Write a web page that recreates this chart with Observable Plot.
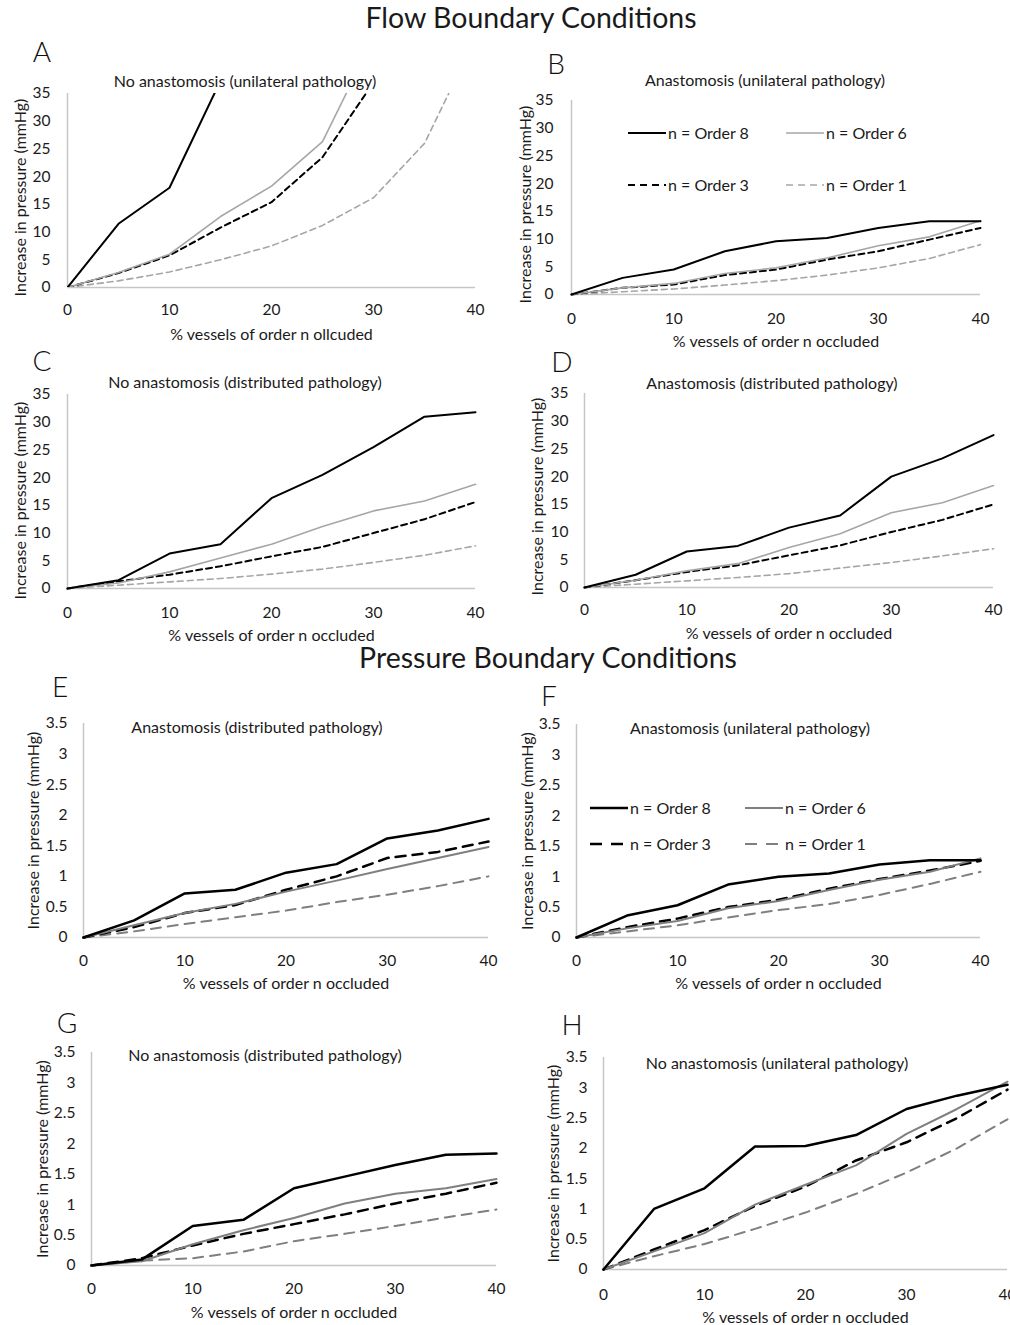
<!DOCTYPE html>
<html><head><meta charset="utf-8">
<script src="https://cdn.jsdelivr.net/npm/d3@7"></script>
<script src="https://cdn.jsdelivr.net/npm/@observablehq/plot@0.6"></script>
<style>
html,body{margin:0;padding:0;background:#fff;overflow:hidden;width:1010px;height:1325px;}
#root{position:relative;width:1010px;height:1325px;font-family:Lato,"Open Sans",sans-serif;color:#1a1a1a;overflow:hidden;}
.abs{position:absolute;white-space:nowrap;line-height:1;}
.ctr{transform:translate(-50%,-50%);}
</style></head><body><div id="root"></div>
<script>
const FONT = "Lato, 'Open Sans', sans-serif";
const pct = [0,5,10,15,20,25,30,35,40];
const seriesNames = ["n = Order 8","n = Order 6","n = Order 3","n = Order 1"];
const xTicks = [0,10,20,30,40];
const flowTicks = [0,5,10,15,20,25,30,35];
const pressureTicks = [0,0.5,1,1.5,2,2.5,3,3.5];
const yLabel = "Increase in pressure (mmHg)";
const xLabel = "% vessels of order n occluded";
const xLabelA = "% vessels of order n ollcuded";

// Flow boundary conditions
const a8 = [0,11.5,18,37.3];
const a6 = [0,2.7,6,12.8,18.3,26.3,45];
const a3 = [0,2.6,5.8,10.8,15.4,23.5,37];
const a1 = [0,1.2,2.8,5,7.5,11.2,16.2,26,45];
const b8 = [0,3,4.5,7.8,9.6,10.2,12,13.2,13.2];
const b6 = [0,1.2,2,3.8,4.8,6.6,8.8,10.4,13.3];
const b3 = [0,1.2,1.8,3.5,4.5,6.3,7.8,9.9,12];
const b1 = [0,0.5,1,1.7,2.5,3.5,4.8,6.5,9];
const c8 = [0,1.5,6.3,8,16.3,20.5,25.5,31,31.8];
const c6 = [0,1,3,5.5,8,11.2,14,15.8,18.8];
const c3 = [0,1.3,2.5,4,5.8,7.5,10,12.5,15.6];
const c1 = [0,0.6,1.2,1.8,2.6,3.5,4.7,6,7.7];
const d8 = [0,2.3,6.5,7.5,10.8,13,20,23.3,27.5];
const d6 = [0,1.3,3,4.3,7.2,9.7,13.5,15.3,18.4];
const d3v = [0,1.3,2.8,4,5.8,7.6,10,12.2,15];
const d1 = [0,0.6,1.2,1.8,2.5,3.5,4.5,5.7,7];
// Pressure boundary conditions
const e8 = [0,0.28,0.72,0.78,1.06,1.2,1.62,1.75,1.94];
const e6 = [0,0.2,0.4,0.55,0.75,0.93,1.12,1.3,1.48];
const e3 = [0,0.17,0.4,0.53,0.78,1.0,1.3,1.4,1.57];
const e1 = [0,0.1,0.22,0.33,0.44,0.58,0.7,0.84,1.0];
const f8 = [0,0.36,0.53,0.87,1.0,1.05,1.2,1.27,1.27];
const f6 = [0,0.15,0.27,0.48,0.6,0.78,0.95,1.08,1.3];
const f3 = [0,0.17,0.31,0.5,0.62,0.8,0.96,1.1,1.26];
const f1 = [0,0.1,0.2,0.33,0.45,0.55,0.7,0.88,1.08];
const g8 = [0,0.1,0.65,0.75,1.27,1.46,1.65,1.82,1.84];
const g6 = [0,0.07,0.35,0.58,0.78,1.02,1.18,1.27,1.42];
const g3 = [0,0.12,0.33,0.52,0.68,0.84,1.02,1.18,1.36];
const g1 = [0,0.08,0.12,0.23,0.4,0.52,0.65,0.79,0.92];
const h8 = [0,1.0,1.34,2.03,2.04,2.22,2.65,2.87,3.05];
const h6 = [0,0.3,0.6,1.07,1.4,1.72,2.24,2.65,3.1];
const h3 = [0,0.33,0.65,1.05,1.37,1.8,2.1,2.5,2.97];
const h1 = [0,0.22,0.42,0.67,0.94,1.25,1.6,2.0,2.48];

const flowStyles = [
  {stroke:"#000", w:2, dash:null},
  {stroke:"#a6a6a6", w:1.6, dash:null},
  {stroke:"#000", w:2, dash:"6,4"},
  {stroke:"#a6a6a6", w:1.6, dash:"6,4"}
];
const pressStyles = [
  {stroke:"#000", w:2.5, dash:null},
  {stroke:"#7f7f7f", w:2, dash:null},
  {stroke:"#000", w:2.5, dash:"10,7"},
  {stroke:"#7f7f7f", w:2, dash:"10,7"}
];

const root = document.getElementById("root");
function addText(txt, x, y, size, weight, color) {
  const d = document.createElement("div");
  d.className = "abs ctr";
  d.textContent = txt;
  d.style.left = x + "px"; d.style.top = y + "px";
  d.style.fontSize = size + "px"; d.style.fontWeight = weight || 400;
  d.style.color = color || "#1a1a1a";
  root.appendChild(d);
}

function drawPanel(p) {
  const L = p.ylabX - 12, T = p.py0 - 9, B = p.xlabY + 12, R = p.px1 + 22;
  const st = p.styles;
  const marks = [
    Plot.ruleY([0], {stroke:"#c6c6c6", strokeWidth:1.5}),
    Plot.ruleX([0], {stroke:"#c6c6c6", strokeWidth:1.5})
  ];
  [3,2,1,0].forEach(i => {
    const rows = p.series[i].map((v, j) => ({x: pct[j], y: v, s: seriesNames[i]}));
    const opts = {x:"x", y:"y", stroke: st[i].stroke, strokeWidth: st[i].w};
    if (st[i].dash) opts.strokeDasharray = st[i].dash;
    if (p.clip) opts.clip = true;
    marks.push(Plot.line(rows, opts));
  });
  marks.push(
    Plot.axisX({ticks: xTicks, tickSize: 0, tickPadding: p.padX, label: null, fontSize: 15.5}),
    Plot.axisY({ticks: p.yTicks, tickSize: 0, tickPadding: p.padY, tickFormat: d => String(d), label: null, fontSize: 15.5}),
    Plot.text([yLabel], {text: d => d, frameAnchor: "left", textAnchor: "middle", lineAnchor: "middle",
      rotate: -90, dx: p.ylabX - p.px0, dy: p.ylabDy, fontSize: 16}),
    Plot.text([p.xlab], {text: d => d, frameAnchor: "bottom", textAnchor: "middle", lineAnchor: "middle",
      dy: p.xlabY - p.py1, fontSize: 16})
  );
  const svg = Plot.plot({
    width: R - L, height: B - T,
    marginLeft: p.px0 - L, marginRight: R - p.px1,
    marginTop: p.py0 - T, marginBottom: B - p.py1,
    x: {domain: [0, 40]},
    y: {domain: [0, p.yMax]},
    style: {fontFamily: FONT, background: "transparent", color: "#1a1a1a", overflow: "visible"},
    marks
  });
  svg.style.position = "absolute";
  svg.style.left = L + "px"; svg.style.top = T + "px";
  svg.style.maxWidth = "none";
  root.appendChild(svg);
  addText(p.letter, p.letterX, p.letterY, 28, 300, "#111");
  addText(p.sub, p.subX, p.subY, 16, 400, "#1a1a1a");
}

function drawLegend(pos, styles, len, dashes) {
  const ns = "http://www.w3.org/2000/svg";
  seriesNames.forEach((name, i) => {
    const [x, y] = pos[i];
    const s = document.createElementNS(ns, "svg");
    s.setAttribute("width", len); s.setAttribute("height", 8);
    s.style.position = "absolute"; s.style.left = x + "px"; s.style.top = (y - 4) + "px";
    const ln = document.createElementNS(ns, "line");
    ln.setAttribute("x1", 0); ln.setAttribute("x2", len);
    ln.setAttribute("y1", 4); ln.setAttribute("y2", 4);
    ln.setAttribute("stroke", styles[i].stroke);
    ln.setAttribute("stroke-width", styles[i].w);
    if (styles[i].dash) ln.setAttribute("stroke-dasharray", dashes);
    s.appendChild(ln);
    root.appendChild(s);
    const d = document.createElement("div");
    d.className = "abs";
    d.textContent = name;
    d.style.left = (x + len + 2) + "px"; d.style.top = (y - 8.5) + "px";
    d.style.fontSize = "16px"; d.style.color = "#1a1a1a";
    root.appendChild(d);
  });
}

addText("Flow Boundary Conditions", 531, 17, 28.5, 400, "#1a1a1a");
addText("Pressure Boundary Conditions", 548, 657, 28.5, 400, "#1a1a1a");

const panels = [
  {letter:"A", letterX:42, letterY:51, sub:"No anastomosis (unilateral pathology)", subX:245, subY:81,
   px0:67, px1:475, py0:93, py1:287, yMax:35, yTicks:flowTicks, ylabX:20, ylabDy:7, xlabY:334, xlab:xLabelA,
   padX:16, padY:17, series:[a8,a6,a3,a1], styles:flowStyles, clip:true},
  {letter:"B", letterX:556, letterY:63, sub:"Anastomosis (unilateral pathology)", subX:765, subY:80,
   px0:571, px1:980, py0:100, py1:294, yMax:35, yTicks:flowTicks, ylabX:525, ylabDy:7, xlabY:341, xlab:xLabel,
   padX:18, padY:18, series:[b8,b6,b3,b1], styles:flowStyles},
  {letter:"C", letterX:42, letterY:360, sub:"No anastomosis (distributed pathology)", subX:245, subY:382,
   px0:67, px1:475, py0:394, py1:588, yMax:35, yTicks:flowTicks, ylabX:20, ylabDy:9, xlabY:635, xlab:xLabel,
   padX:18, padY:17, series:[c8,c6,c3,c1], styles:flowStyles},
  {letter:"D", letterX:562, letterY:361, sub:"Anastomosis (distributed pathology)", subX:772, subY:383,
   px0:584, px1:993, py0:393, py1:587, yMax:35, yTicks:flowTicks, ylabX:537, ylabDy:6, xlabY:633, xlab:xLabel,
   padX:16, padY:16, series:[d8,d6,d3v,d1], styles:flowStyles},
  {letter:"E", letterX:60, letterY:686, sub:"Anastomosis (distributed pathology)", subX:257, subY:727,
   px0:83, px1:488, py0:723, py1:937, yMax:3.5, yTicks:pressureTicks, ylabX:33, ylabDy:0, xlabY:983, xlab:xLabel,
   padX:17, padY:16, series:[e8,e6,e3,e1], styles:pressStyles},
  {letter:"F", letterX:549, letterY:695, sub:"Anastomosis (unilateral pathology)", subX:750, subY:728,
   px0:576, px1:980, py0:724, py1:937, yMax:3.5, yTicks:pressureTicks, ylabX:527, ylabDy:0, xlabY:983, xlab:xLabel,
   padX:17, padY:16, series:[f8,f6,f3,f1], styles:pressStyles},
  {letter:"G", letterX:67, letterY:1022, sub:"No anastomosis (distributed pathology)", subX:265, subY:1055,
   px0:91, px1:496, py0:1052, py1:1265, yMax:3.5, yTicks:pressureTicks, ylabX:42, ylabDy:0, xlabY:1312, xlab:xLabel,
   padX:17, padY:16, series:[g8,g6,g3,g1], styles:pressStyles},
  {letter:"H", letterX:572, letterY:1024, sub:"No anastomosis (unilateral pathology)", subX:777, subY:1063,
   px0:603, px1:1007, py0:1057, py1:1269, yMax:3.5, yTicks:pressureTicks, ylabX:553, ylabDy:0, xlabY:1317, xlab:xLabel,
   padX:19, padY:16, series:[h8,h6,h3,h1], styles:pressStyles}
];
panels.forEach(drawPanel);

drawLegend([[628,133],[786,133],[628,185],[786,185]], flowStyles, 38, "7,5");
drawLegend([[590,808],[745,808],[590,844],[745,844]], pressStyles, 38, "12,9");
</script></body></html>
